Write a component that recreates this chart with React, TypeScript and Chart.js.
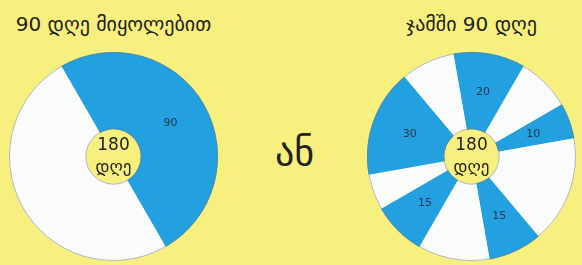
import React, { useEffect, useRef } from "react";
import { Chart, registerables } from "chart.js";

Chart.register(...registerables);

// ---- data ----
const leftTitle = "90 დღე მიყოლებით";
const rightTitle = "ჯამში 90 დღე";
const middleText = "ან";
const centerLines = ["180", "დღე"];

const leftValues = [90, 90];
const leftIsBlue = [true, false];
const leftRotation = -30;

const rightValues = [20, 15, 10, 30, 15, 20, 15, 10, 30, 15];
const rightIsBlue = [true, false, true, false, true, false, true, false, true, false];
const rightRotation = -10;

// ---- styles ----
const BG = "#f7f07e";
const BLUE = "#22a0e0";
const WHITE = "#fafcfc";
const FONT = "'DejaVu Sans', sans-serif";

const piePlugin = {
  id: "pieDecor",
  afterDatasetsDraw(chart: any, _args: any, opts: any) {
    const meta = chart.getDatasetMeta(0);
    const ds = chart.data.datasets[0];
    const ctx = chart.ctx;
    ctx.save();
    let cx = 0, cy = 0, outer = 0, inner = 0;
    meta.data.forEach((arc: any, i: number) => {
      const p = arc.getProps(["x", "y", "startAngle", "endAngle", "outerRadius", "innerRadius"], true);
      cx = p.x; cy = p.y; outer = p.outerRadius; inner = p.innerRadius;
      if (!opts.show[i]) return;
      const mid = (p.startAngle + p.endAngle) / 2;
      const r = p.outerRadius * 0.63;
      ctx.fillStyle = "#2a3550";
      ctx.font = `11px ${FONT}`;
      ctx.textAlign = "center";
      ctx.textBaseline = "middle";
      ctx.fillText(String(ds.data[i]), cx + Math.cos(mid) * r, cy + Math.sin(mid) * r);
    });
    ctx.strokeStyle = "rgba(120,120,120,0.55)";
    ctx.lineWidth = 1;
    ctx.beginPath();
    ctx.arc(cx, cy, outer - 0.5, 0, Math.PI * 2);
    ctx.stroke();
    ctx.beginPath();
    ctx.arc(cx, cy, inner + 0.5, 0, Math.PI * 2);
    ctx.stroke();
    ctx.fillStyle = "#222";
    ctx.font = `17px ${FONT}`;
    ctx.textAlign = "center";
    ctx.textBaseline = "middle";
    ctx.fillText(centerLines[0], cx, cy - 11);
    ctx.fillText(centerLines[1], cx, cy + 11);
    ctx.restore();
  },
};

function Pie(props: { values: number[]; blue: boolean[]; rotation: number; left: number; top: number }) {
  const ref = useRef<HTMLCanvasElement>(null);
  useEffect(() => {
    const chart = new Chart(ref.current!, {
      type: "doughnut",
      data: {
        labels: props.values.map((_, i) => String(i)),
        datasets: [
          {
            data: props.values,
            backgroundColor: props.blue.map((b) => (b ? BLUE : WHITE)),
            borderWidth: 0,
            hoverOffset: 0,
          },
        ],
      },
      options: {
        responsive: false,
        animation: false,
        rotation: props.rotation,
        cutout: "26%",
        layout: { padding: 0 },
        events: [],
        plugins: {
          legend: { display: false },
          tooltip: { enabled: false },
          pieDecor: { show: props.blue },
        } as any,
      },
      plugins: [piePlugin],
    });
    return () => chart.destroy();
  }, []);
  return (
    <canvas
      ref={ref}
      width={209}
      height={209}
      style={{ position: "absolute", left: props.left, top: props.top, width: 209, height: 209 }}
    />
  );
}

const textStyle = (cx: number, cy: number, size: number): React.CSSProperties => ({
  position: "absolute",
  left: cx - 150,
  top: cy - size,
  width: 300,
  height: size * 2,
  lineHeight: `${size * 2}px`,
  textAlign: "center",
  fontFamily: FONT,
  fontSize: size,
  color: "#222",
  whiteSpace: "nowrap",
});

export default function App() {
  return (
    <div style={{ position: "fixed", left: 0, top: 0, width: 582, height: 265, background: BG, overflow: "hidden" }}>
      <div style={textStyle(113.5, 24, 20)}>{leftTitle}</div>
      <div style={textStyle(471.5, 24, 20)}>{rightTitle}</div>
      <div style={textStyle(294.5, 152, 38)}>{middleText}</div>
      <Pie values={leftValues} blue={leftIsBlue} rotation={leftRotation} left={9} top={52} />
      <Pie values={rightValues} blue={rightIsBlue} rotation={rightRotation} left={367} top={52} />
    </div>
  );
}
